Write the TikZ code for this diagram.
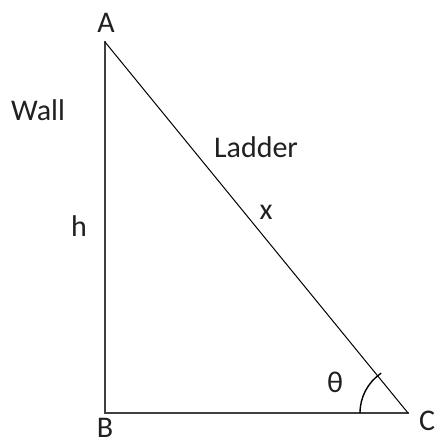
\documentclass[tikz,border=0pt]{standalone}
\usepackage{fontspec}
\setmainfont{Carlito}
\definecolor{leg}{HTML}{404040}
\definecolor{txt}{HTML}{202020}
\begin{document}
\begin{tikzpicture}[x=1pt,y=1pt,
  lbl/.style={inner sep=0pt,text=txt,font=\fontsize{30}{30}\selectfont},
  legline/.style={draw=leg,line width=2pt},
  hypline/.style={draw=black,line width=1pt}]
\useasboundingbox (0,0) rectangle (437,440);
\coordinate (A) at (105,398);
\coordinate (B) at (105,27);
\coordinate (C) at (408,27);
\draw[legline,line cap=rect] (A) -- (B) -- (C);
\draw[hypline] (A) -- (C);
\draw[black,line width=1.4pt] ([shift={(180:48)}]C) arc[start angle=180,end angle=124,radius=48];
\node[lbl] (lA) at (106,417) {A};
\node[lbl] (lB) at (105,12.5) {B};
\node[lbl] (lC) at (427,19) {C};
\node[lbl] (wall) at (38,330) {Wall};
\node[lbl] (ladder) at (256,293) {Ladder};
\node[lbl] (lx) at (266,228) {x};
\node[lbl] (lh) at (79,214) {h};
\node[lbl] (th) at (335,58) {θ};
\end{tikzpicture}
\end{document}
